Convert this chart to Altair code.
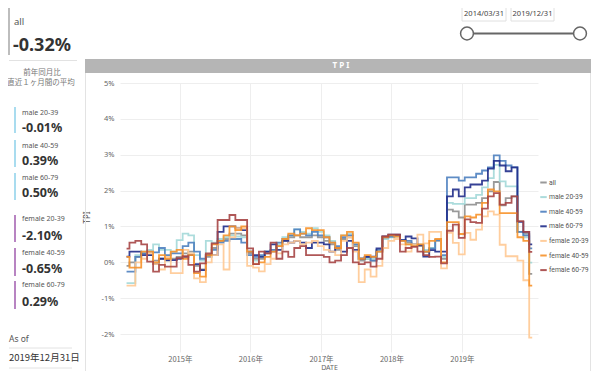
import altair as alt
import pandas as pd

# ---------------- data ----------------
series_names = ["all", "male 20-39", "male 40-59", "male 60-79",
                "female 20-39", "female 40-59", "female 60-79"]
series_colors = ["#8f8f8f", "#a3d8d8", "#4d7fbf", "#202c8a",
                 "#ffc993", "#f7922a", "#a64545"]

start_month = "2014-03-31"
n_months = 70

tpi_all = [-0.1, 0.0, 0.15, 0.25, 0.2, 0.05, 0.1, 0.05, 0.1, 0.15,
           0.25, 0.3, -0.1, -0.2, 0.15, 0.4, 0.6, 0.65, 0.8, 0.8, 0.75, 0.25,
           0.1, 0.1, 0.25, 0.3, 0.45, 0.6, 0.7, 0.75, 0.7, 0.7, 0.75, 0.7,
           0.6, 0.5, 0.35, 0.65, 0.7, 0.45, 0.05, 0.1, 0.05, 0.3, 0.7, 0.72,
           0.75, 0.6, 0.55, 0.5, 0.45, 0.3, 0.4, 0.6, 0.1, 1.47, 1.42, 1.25,
           1.61, 1.61, 1.66, 1.79, 1.98, 2.24, 1.59, 1.79, 1.84, 0.85, 0.8, -0.32]
tpi_m20 = [-0.58, -0.58, 0.2, 0.3, 0.35, 0.5, 0.35, 0.35, 0.3, 0.62,
           0.8, 0.75, 0.2, 0.05, 0.6, 0.55, 0.65, 0.7, 0.75, 0.72, 0.7, 0.3,
           0.05, 0.15, 0.3, 0.35, 0.5, 0.7, 0.75, 0.92, 0.85, 0.8, 0.95, 0.85,
           0.75, 0.6, 0.4, 0.75, 0.8, 0.5, 0.1, 0.1, 0.1, 0.3, 0.65, 0.7,
           0.72, 0.62, 0.5, 0.45, 0.5, 0.35, 0.4, 0.62, 0.15, 1.66, 1.63, 1.63,
           1.79, 1.79, 1.88, 2.09, 2.35, 2.72, 2.26, 2.12, 2.12, 0.85, 0.7, -0.01]
tpi_m40 = [-0.26, -0.26, 0.15, 0.25, 0.3, 0.28, 0.4, 0.2, 0.25, 0.25,
           0.45, 0.55, 0.3, 0.1, 0.2, 0.35, 0.55, 0.6, 0.65, 0.65, 0.55, 0.2,
           0.15, 0.2, 0.3, 0.35, 0.55, 0.65, 0.75, 0.92, 0.8, 0.75, 0.85, 0.75,
           0.7, 0.55, 0.45, 0.7, 0.75, 0.5, 0.1, 0.15, 0.05, 0.35, 0.7, 0.72,
           0.75, 0.62, 0.6, 0.5, 0.48, 0.3, 0.38, 0.62, 0.2, 2.37, 2.37, 2.28,
           2.37, 2.37, 2.47, 2.56, 2.65, 2.98, 2.83, 2.7, 2.65, 0.85, 0.75, 0.39]
tpi_m60 = [0.16, 0.3, 0.3, 0.2, 0.2, -0.05, 0.1, 0.06, 0.06, 0.1,
           0.15, 0.2, -0.05, -0.22, 0.2, 0.2, 0.85, 1.0, 1.0, 0.95, 0.9, 0.3,
           0.2, 0.15, 0.3, 0.5, 0.35, 0.6, 0.55, 0.6, 0.55, 0.4, 0.55, 0.55,
           0.5, 0.3, 0.4, 0.3, 0.6, 0.35, 0.1, 0.15, 0.16, 0.39, 0.72, 0.77,
           0.77, 0.62, 0.72, 0.67, 0.48, 0.16, 0.34, 0.3, 0.3, 1.84, 2.03, 1.84,
           2.09, 2.17, 2.17, 2.28, 2.61, 2.83, 2.7, 2.54, 2.65, 1.13, 0.85, 0.5]
tpi_f20 = [-0.65, -0.65, 0.0, 0.1, 0.25, -0.05, -0.2, 0.15, -0.3, -0.3,
           0.35, 0.25, -0.45, -0.55, 0.0, 0.2, 0.5, -0.2, 0.7, 0.95, 0.95, -0.1,
           -0.15, -0.25, -0.05, 0.1, 0.25, 0.5, 0.55, 0.6, 0.5, 0.55, 0.6, 0.45,
           0.35, 0.3, 0.2, 0.6, 0.7, 0.3, -0.55, -0.2, -0.4, -0.1, 0.4, 0.6,
           0.65, 0.5, 0.3, 0.5, 0.77, 0.53, 0.85, 0.85, -0.17, 0.82, 0.54, 0.22,
           0.82, 0.63, 0.91, 1.28, 1.42, 1.33, 0.49, 0.17, 0.17, 0.05, -0.5, -2.1]
tpi_f40 = [0.15, -0.15, -0.15, 0.3, 0.3, 0.0, 0.2, 0.1, 0.3, 0.35,
           0.1, 0.2, -0.3, -0.4, 0.2, 0.5, 0.6, 0.75, 1.0, 0.9, 1.0, 0.3,
           -0.05, 0.0, 0.15, 0.3, 0.45, 0.65, 0.8, 0.75, 0.8, 0.95, 0.9, 0.9,
           0.7, 0.55, 0.4, 0.75, 0.85, 0.55, 0.1, 0.2, 0.15, 0.3, 0.7, 0.75,
           0.72, 0.6, 0.5, 0.45, 0.5, 0.3, 0.6, 0.65, 0.0, 1.12, 1.12, 0.79,
           1.28, 1.25, 1.33, 1.66, 2.03, 1.98, 1.37, 1.37, 1.37, 0.7, 0.6, -0.65]
tpi_f60 = [0.38, 0.55, 0.6, 0.5, 0.02, -0.26, -0.07, -0.12, -0.12, 0.12,
           0.17, -0.07, -0.26, -0.03, 0.25, 0.53, 1.18, 1.18, 1.32, 1.18, 1.18, 0.39,
           -0.05, 0.3, 0.25, 0.55, 0.1, 0.3, 0.15, 0.4, 0.45, 0.2, 0.2, 0.2,
           0.15, 0.0, 0.05, 0.2, 0.4, 0.0, -0.05, 0.0, -0.12, 0.1, 0.72, 0.77,
           0.77, 0.3, 0.4, 0.43, 0.3, 0.2, 0.15, 0.16, -0.03, 0.88, 1.05, 0.68,
           1.2, 1.12, 1.1, 1.5, 1.84, 1.93, 1.61, 1.66, 1.84, 1.15, 0.85, 0.29]

series_values = [tpi_all, tpi_m20, tpi_m40, tpi_m60, tpi_f20, tpi_f40, tpi_f60]

kpi_all_label = "all"
kpi_all_value = "-0.32%"
kpi_caption = ["前年同月比", "直近１ヶ月間の平均"]
male_labels = ["male 20-39", "male 40-59", "male 60-79"]
male_values = ["-0.01%", "0.39%", "0.50%"]
female_labels = ["female 20-39", "female 40-59", "female 60-79"]
female_values = ["-2.10%", "-0.65%", "0.29%"]
asof_label = "As of"
asof_date = "2019年12月31日"
range_start = "2014/03/31"
range_end = "2019/12/31"
panel_title = "T P I"
y_ticks = [-2, -1, 0, 1, 2, 3, 4, 5]
x_tick_years = [2015, 2016, 2017, 2018, 2019]

dates = pd.date_range(start_month, periods=n_months, freq="ME")
rows = []
for name, vals in zip(series_names, series_values):
    for d, v in zip(dates, vals):
        rows.append({"DATE": d.strftime("%Y-%m-%d"), "series": name, "TPI": v})
df = pd.DataFrame(rows)

FONT = "Noto Sans"
LFONT = "Roboto"
JFONT = "Noto Sans CJK JP"

# ---------------- main lines ----------------
lines = alt.Chart(df).mark_line(interpolate="step", strokeWidth=1.8, opacity=0.9, clip=True).encode(
    x=alt.X("DATE:T",
            scale=alt.Scale(domain=["2014-02-25", "2020-01-30"]),
            axis=alt.Axis(values=[alt.DateTime(year=y, month=1, date=1) for y in x_tick_years],
                          format="%Y年", grid=True, gridColor="#eeeeee",
                          domain=False, ticks=False, labelFontSize=7.5, labelColor="#666",
                          labelFont=JFONT, labelPadding=3, title="DATE", titleFontSize=7,
                          titleFontWeight="normal", titleColor="#666", titleFont=FONT,
                          titleY=15, titleBaseline="middle")),
    y=alt.Y("TPI:Q",
            scale=alt.Scale(domain=[-2.5, 5], nice=False),
            axis=alt.Axis(values=y_ticks, labelExpr="datum.value + '%'", grid=True,
                          gridColor="#eeeeee", domain=False, ticks=False, labelFontSize=7.5,
                          labelColor="#666", labelFont=FONT, labelPadding=6, title="TPI",
                          titleFontSize=8, titleFontWeight="normal", titleColor="#555",
                          titleFont=FONT, titleX=-29, titleY=134)),
    color=alt.Color("series:N",
                    scale=alt.Scale(domain=series_names, range=series_colors),
                    legend=alt.Legend(orient="none", legendX=419, legendY=95, title=None,
                                      symbolType="stroke", symbolSize=42, symbolStrokeWidth=2,
                                      labelFontSize=6.8, labelColor="#555", labelFont=LFONT,
                                      rowPadding=5.6, labelOffset=1, padding=0)),
)

one = alt.Data(values=[{"k": 1}])
OX, OY = 120, 83  # plot origin in page pixels


def px(x):
    return x - OX


def py(y):
    return y - OY


def text(t, x, y, size, color="#333", weight="normal", align="left", font=FONT):
    return alt.Chart(one).mark_text(text=t, fontSize=size, color=color, fontWeight=weight,
                                    align=align, baseline="middle", font=font).encode(
        x=alt.value(px(x)), y=alt.value(py(y)))


def vrule(x, y1, y2, color, w=2):
    return alt.Chart(one).mark_rule(color=color, strokeWidth=w).encode(
        x=alt.value(px(x)), y=alt.value(py(y1)), y2=alt.value(py(y2)))


def hrule(x1, x2, y, color, w=1):
    return alt.Chart(one).mark_rule(color=color, strokeWidth=w).encode(
        x=alt.value(px(x1)), x2=alt.value(px(x2)), y=alt.value(py(y)))


def box(x1, x2, y1, y2, fill, stroke=None):
    kw = {"fill": fill}
    if stroke:
        kw["stroke"] = stroke
        kw["strokeWidth"] = 1
    return alt.Chart(one).mark_rect(**kw).encode(
        x=alt.value(px(x1)), x2=alt.value(px(x2)), y=alt.value(py(y1)), y2=alt.value(py(y2)))


def knob(x, y):
    return alt.Chart(one).mark_point(
        shape="circle", size=165, filled=True, fill="#ffffff", stroke="#666666",
        strokeWidth=1.5, opacity=1).encode(x=alt.value(px(x)), y=alt.value(py(y)))


deco = []
# panel title band and borders
deco.append(box(85, 591, 59, 73, "#b5b5b5"))
deco.append(text(panel_title, 341, 66, 8, color="#ffffff", weight="bold", align="center"))
deco.append(vrule(85.5, 73, 371, "#e3e3e3", 1))
deco.append(vrule(590.5, 73, 371, "#e3e3e3", 1))

# KPI: all
deco.append(vrule(9, 8, 55, "#bdbdbd", 2))
deco.append(text(kpi_all_label, 14, 22, 9.5, color="#555"))
deco.append(text(kpi_all_value, 13, 46, 18, color="#333", weight="bold"))
deco.append(hrule(9, 77, 60.5, "#e2e2e2"))
deco.append(text(kpi_caption[0], 42, 73, 7.5, color="#777", align="center", font=JFONT))
deco.append(text(kpi_caption[1], 41, 83, 7.5, color="#777", align="center", font=JFONT))

male_bars = [(107, 133), (140, 167), (173, 200)]
male_label_y = [113, 146, 178]
male_value_y = [128, 161, 193]
for (a, b), ly, vy, lab, val in zip(male_bars, male_label_y, male_value_y, male_labels, male_values):
    deco.append(vrule(15, a, b, "#a9dcef", 2))
    deco.append(text(lab, 22, ly, 7, color="#555"))
    deco.append(text(val, 22, vy, 12.5, color="#333", weight="bold"))

female_bars = [(215, 242), (248, 276), (281, 309)]
female_label_y = [219, 253, 285]
female_value_y = [236, 269, 302]
for (a, b), ly, vy, lab, val in zip(female_bars, female_label_y, female_value_y, female_labels, female_values):
    deco.append(vrule(15, a, b, "#b884c2", 2))
    deco.append(text(lab, 22, ly, 7, color="#555"))
    deco.append(text(val, 22, vy, 12.5, color="#333", weight="bold"))

deco.append(text(asof_label, 9, 339, 8.5, color="#555"))
deco.append(hrule(9, 72, 348, "#e2e2e2"))
deco.append(text(asof_date, 9, 358, 9.5, color="#333", font=JFONT))
deco.append(hrule(9, 72, 368, "#e2e2e2"))

# date range slicer
deco.append(box(462, 506, 7, 21, "#ffffff", "#e0e0e0"))
deco.append(box(511, 554, 7, 21, "#ffffff", "#e0e0e0"))
deco.append(text(range_start, 484, 14, 7.5, color="#444", align="center"))
deco.append(text(range_end, 532.5, 14, 7.5, color="#444", align="center"))
deco.append(hrule(467, 580, 33.5, "#666666", 2))
deco.append(knob(467, 33.5))
deco.append(knob(580, 33.5))

chart = alt.layer(lines, *deco).properties(
    width=418, height=269,
    autosize=alt.AutoSizeParams(type="none"),
    padding={"left": 112, "top": 75, "right": 54, "bottom": 19},
    background="#ffffff",
).configure_view(stroke=None)

chart.save("out.html", embed_options={"renderer": "svg", "actions": False})
